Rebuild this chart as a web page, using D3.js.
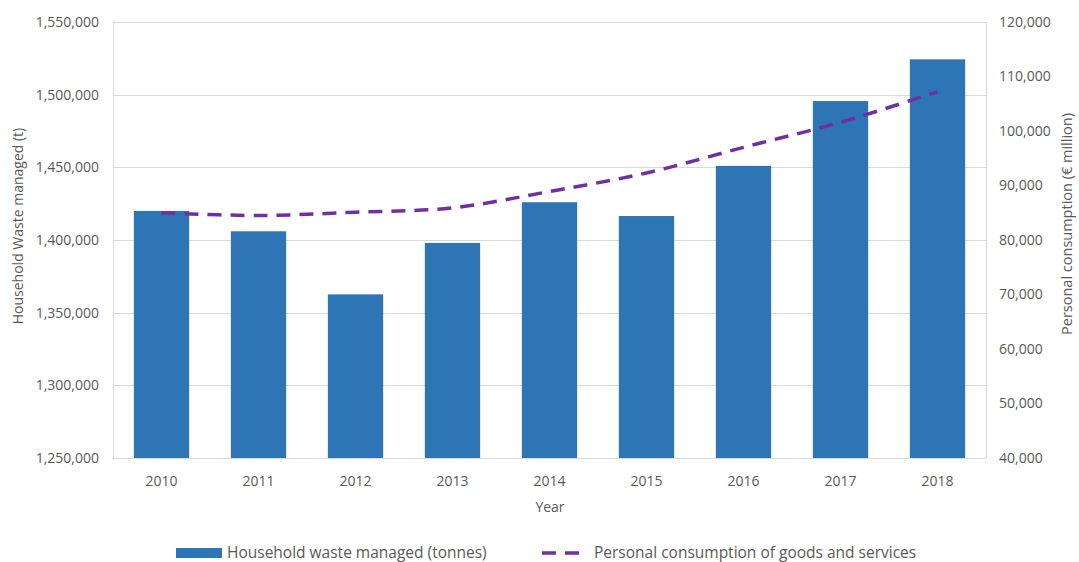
<!DOCTYPE html>
<html>
<head>
<meta charset="utf-8">
<script src="https://cdn.jsdelivr.net/npm/d3@7"></script>
<style>
  body { margin: 0; background: #fff; }
  text { font-family: "Open Sans", "Noto Sans", sans-serif; fill: #595959; }
</style>
</head>
<body>
<div id="container"></div>
<script>
// data
var years = ["2010", "2011", "2012", "2013", "2014", "2015", "2016", "2017", "2018"]
var wasteTonnes = [1420000, 1406000, 1362600, 1398000, 1426000, 1416500, 1451000, 1495600, 1524300]
var consumption = [85000, 84500, 85100, 85900, 88900, 92300, 97000, 101600, 107200]
var leftTicks = [1250000, 1300000, 1350000, 1400000, 1450000, 1500000, 1550000]
var rightTicks = [40000, 50000, 60000, 70000, 80000, 90000, 100000, 110000, 120000]

var width = 1079
var height = 562
var margin = {top: 22, right: 93, bottom: 104, left: 113}

var svg = d3.select("#container")
  .append("svg")
  .attr("width", width)
  .attr("height", height)

var x = d3.scaleBand()
  .domain(years)
  .range([margin.left, width - margin.right])
  .paddingInner(0.43)
  .paddingOuter(0.215)

var yLeft = d3.scaleLinear()
  .domain([1250000, 1550000])
  .range([height - margin.bottom, margin.top])

var yRight = d3.scaleLinear()
  .domain([40000, 120000])
  .range([height - margin.bottom, margin.top])

var fmt = d3.format(",")

// gridlines
svg.append("g")
  .selectAll("line")
  .data(leftTicks)
  .enter()
  .append("line")
  .attr("x1", margin.left)
  .attr("x2", width - margin.right)
  .attr("y1", function(d) { return Math.round(yLeft(d)) + 0.5 })
  .attr("y2", function(d) { return Math.round(yLeft(d)) + 0.5 })
  .attr("stroke", "#d9d9d9")

// left + right axis lines
svg.append("line")
  .attr("x1", margin.left + 0.5).attr("x2", margin.left + 0.5)
  .attr("y1", margin.top).attr("y2", height - margin.bottom)
  .attr("stroke", "#d9d9d9")
svg.append("line")
  .attr("x1", width - margin.right + 0.5).attr("x2", width - margin.right + 0.5)
  .attr("y1", margin.top).attr("y2", height - margin.bottom)
  .attr("stroke", "#d9d9d9")

// bars
svg.append("g")
  .selectAll("rect")
  .data(years)
  .enter()
  .append("rect")
  .attr("x", function(d) { return x(d) })
  .attr("width", x.bandwidth())
  .attr("y", function(d, i) { return yLeft(wasteTonnes[i]) })
  .attr("height", function(d, i) { return yLeft(1250000) - yLeft(wasteTonnes[i]) })
  .attr("fill", "#2e75b6")

// smoothed dashed line on right axis
var line = d3.line()
  .x(function(d, i) { return x(years[i]) + x.bandwidth() / 2 })
  .y(function(d) { return yRight(d) })
  .curve(d3.curveCatmullRom.alpha(0.5))

svg.append("path")
  .datum(consumption)
  .attr("d", line)
  .attr("fill", "none")
  .attr("stroke", "#7030a0")
  .attr("stroke-width", 3.5)
  .attr("stroke-dasharray", "14,9")

// left tick labels
svg.append("g")
  .selectAll("text")
  .data(leftTicks)
  .enter()
  .append("text")
  .attr("x", 99)
  .attr("y", function(d) { return yLeft(d) })
  .attr("dy", "0.35em")
  .attr("text-anchor", "end")
  .style("font-size", "14px")
  .text(function(d) { return fmt(d) })

// right tick labels
svg.append("g")
  .selectAll("text")
  .data(rightTicks)
  .enter()
  .append("text")
  .attr("x", 999)
  .attr("y", function(d) { return yRight(d) })
  .attr("dy", "0.35em")
  .style("font-size", "14px")
  .text(function(d) { return fmt(d) })

// x labels
svg.append("g")
  .selectAll("text")
  .data(years)
  .enter()
  .append("text")
  .attr("x", function(d) { return x(d) + x.bandwidth() / 2 })
  .attr("y", 481)
  .attr("dy", "0.35em")
  .attr("text-anchor", "middle")
  .style("font-size", "14px")
  .text(function(d) { return d })

// axis titles
svg.append("text")
  .attr("x", 550).attr("y", 507)
  .attr("dy", "0.35em")
  .attr("text-anchor", "middle")
  .style("font-size", "14px")
  .text("Year")

svg.append("text")
  .attr("transform", "translate(18,226) rotate(-90)")
  .attr("dy", "0.35em")
  .attr("text-anchor", "middle")
  .style("font-size", "14px")
  .text("Household Waste managed (t)")

svg.append("text")
  .attr("transform", "translate(1067,224) rotate(-90)")
  .attr("dy", "0.35em")
  .attr("text-anchor", "middle")
  .style("font-size", "14.5px")
  .text("Personal consumption (€ million)")

// legend
var legend = svg.append("g")
legend.append("rect")
  .attr("x", 176).attr("y", 548)
  .attr("width", 46).attr("height", 10)
  .attr("fill", "#2e75b6")
legend.append("text")
  .attr("x", 227).attr("y", 553)
  .attr("dy", "0.35em")
  .style("font-size", "15.5px")
  .text("Household waste managed (tonnes)")
legend.append("line")
  .attr("x1", 542).attr("x2", 586)
  .attr("y1", 553).attr("y2", 553)
  .attr("stroke", "#7030a0")
  .attr("stroke-width", 3.5)
  .attr("stroke-dasharray", "14,9")
legend.append("text")
  .attr("x", 594).attr("y", 553)
  .attr("dy", "0.35em")
  .style("font-size", "15.5px")
  .text("Personal consumption of goods and services")
</script>
</body>
</html>
